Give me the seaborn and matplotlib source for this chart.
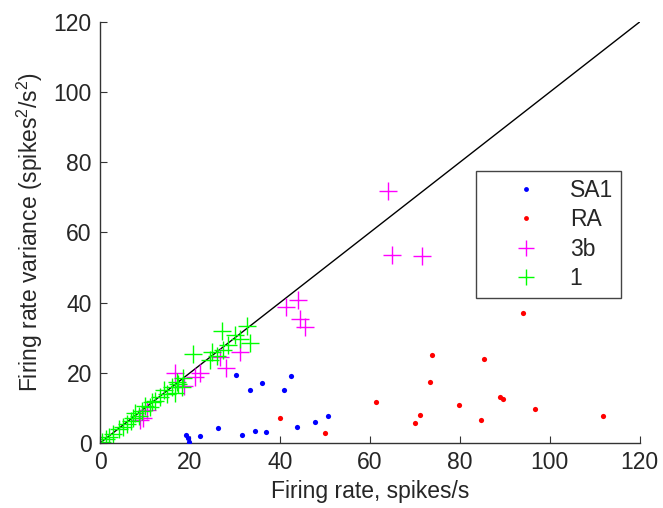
import numpy as np
import pandas as pd
import matplotlib
matplotlib.use("Agg")
import matplotlib.pyplot as plt
import seaborn as sns
from matplotlib.lines import Line2D

# Firing rate (spikes/s) and its variance (spikes^2/s^2) per recorded neuron
sa1_rate = [19.0, 19.5, 19.8, 22.3, 26.3, 30.2, 31.5, 33.3, 34.4, 36.1, 36.8, 40.9, 42.5, 43.7, 47.7, 50.7]
sa1_var = [2.4, 1.4, 0.2, 2.1, 4.3, 19.4, 2.2, 15.0, 3.4, 17.1, 3.1, 15.1, 19.1, 4.6, 6.1, 7.6]

ra_rate = [40.1, 50.1, 61.3, 70.1, 71.1, 73.4, 73.9, 79.8, 84.7, 85.3, 89.0, 89.5, 94.0, 96.7, 111.9]
ra_var = [7.2, 2.8, 11.8, 5.7, 7.9, 17.3, 25.2, 10.8, 6.5, 23.8, 13.1, 12.4, 37.0, 9.6, 7.7]

b3_rate = [64.1, 64.9, 71.6, 41.3, 43.9, 44.4, 45.6, 16.7, 18.7, 21.1, 22.2, 26.7, 28.1, 31.0,
           8.9, 9.6, 10.4]
b3_var = [71.9, 53.5, 53.3, 38.8, 40.7, 35.3, 33.0, 19.9, 16.1, 18.9, 20.0, 24.6, 21.5, 26.0,
          6.5, 7.0, 9.4]

a1_rate = [0.4, 1.2, 1.9, 2.8, 4.1, 5.0, 5.9, 6.8, 7.4, 7.8, 8.6, 9.3, 10.0, 11.1, 11.6, 12.2,
           13.3, 14.1, 14.8, 15.9, 16.7, 17.0, 17.4, 18.1, 18.5, 20.7, 24.4, 24.8, 26.0, 27.0,
           27.4, 28.5, 30.0, 31.1, 32.6, 33.3]
a1_var = [0.3, 1.0, 1.8, 2.6, 3.9, 4.6, 5.4, 6.4, 7.0, 8.5, 7.8, 9.0, 10.5, 10.3, 11.6, 12.0,
          13.2, 15.1, 14.0, 16.0, 14.3, 17.5, 16.8, 16.0, 18.4, 25.3, 23.6, 26.0, 24.8, 31.9,
          26.5, 27.9, 30.8, 29.6, 33.3, 28.4]

series_names = ["SA1", "RA", "3b", "1"]
series_colors = {"SA1": "#0000ff", "RA": "#ff0000", "3b": "#ff00ff", "1": "#00ff00"}

frames = []
for name, xs, ys in zip(series_names,
                        [sa1_rate, ra_rate, b3_rate, a1_rate],
                        [sa1_var, ra_var, b3_var, a1_var]):
    frames.append(pd.DataFrame({"rate": xs, "variance": ys, "group": name}))
df = pd.concat(frames, ignore_index=True)

sns.set_style("white")
plt.rcParams["font.family"] = ["Liberation Sans", "DejaVu Sans"]
plt.rcParams["mathtext.fontset"] = "custom"
plt.rcParams["mathtext.rm"] = "Liberation Sans"
plt.rcParams["mathtext.it"] = "Liberation Sans:italic"
plt.rcParams["mathtext.default"] = "regular"

fig = plt.figure(figsize=(6.63, 5.08), dpi=100)
ax = fig.add_axes([0.151, 0.128, 0.814, 0.829])

# unity line: variance equal to mean rate (Poisson)
ax.plot([0, 120], [0, 120], color="black", lw=1.0, zorder=1)

for name in ["SA1", "RA"]:
    sns.scatterplot(data=df[df.group == name], x="rate", y="variance", ax=ax,
                    color=series_colors[name], marker="o", s=14, linewidth=0,
                    legend=False, zorder=3)
for name in ["3b", "1"]:
    sns.scatterplot(data=df[df.group == name], x="rate", y="variance", ax=ax,
                    color=series_colors[name], marker="+", s=150, linewidth=1.0,
                    legend=False, zorder=2)

ax.set_xlim(0, 120)
ax.set_ylim(0, 120)
ax.set_xticks(np.arange(0, 121, 20))
ax.set_yticks(np.arange(0, 121, 20))
ax.tick_params(direction="in", length=5, width=0.8, labelsize=16.5, color="#333333",
               pad=6, bottom=True, left=True)
for side in ["top", "right"]:
    ax.spines[side].set_visible(False)
for side in ["bottom", "left"]:
    ax.spines[side].set_color("#333333")
    ax.spines[side].set_linewidth(1.0)

ax.set_xlabel("Firing rate, spikes/s", fontsize=16.5, labelpad=4)
ax.set_ylabel("Firing rate variance (spikes$^2$/s$^2$)", fontsize=16.5, labelpad=6)

handles = [
    Line2D([], [], ls="none", marker="o", markersize=3.5, markeredgewidth=0, color=series_colors["SA1"]),
    Line2D([], [], ls="none", marker="o", markersize=3.5, markeredgewidth=0, color=series_colors["RA"]),
    Line2D([], [], ls="none", marker="+", markersize=12, markeredgewidth=1.0, color=series_colors["3b"]),
    Line2D([], [], ls="none", marker="+", markersize=12, markeredgewidth=1.0, color=series_colors["1"]),
]
leg = ax.legend(handles, series_names, loc="upper left", bbox_to_anchor=(0.696, 0.646),
                fontsize=16.5, frameon=True, fancybox=False, framealpha=1,
                edgecolor="#444444", borderpad=0.35, labelspacing=0.28,
                handlelength=3.65, handletextpad=0.1, borderaxespad=0)
leg.get_frame().set_linewidth(1.0)

fig.savefig("out.png", dpi=100)
